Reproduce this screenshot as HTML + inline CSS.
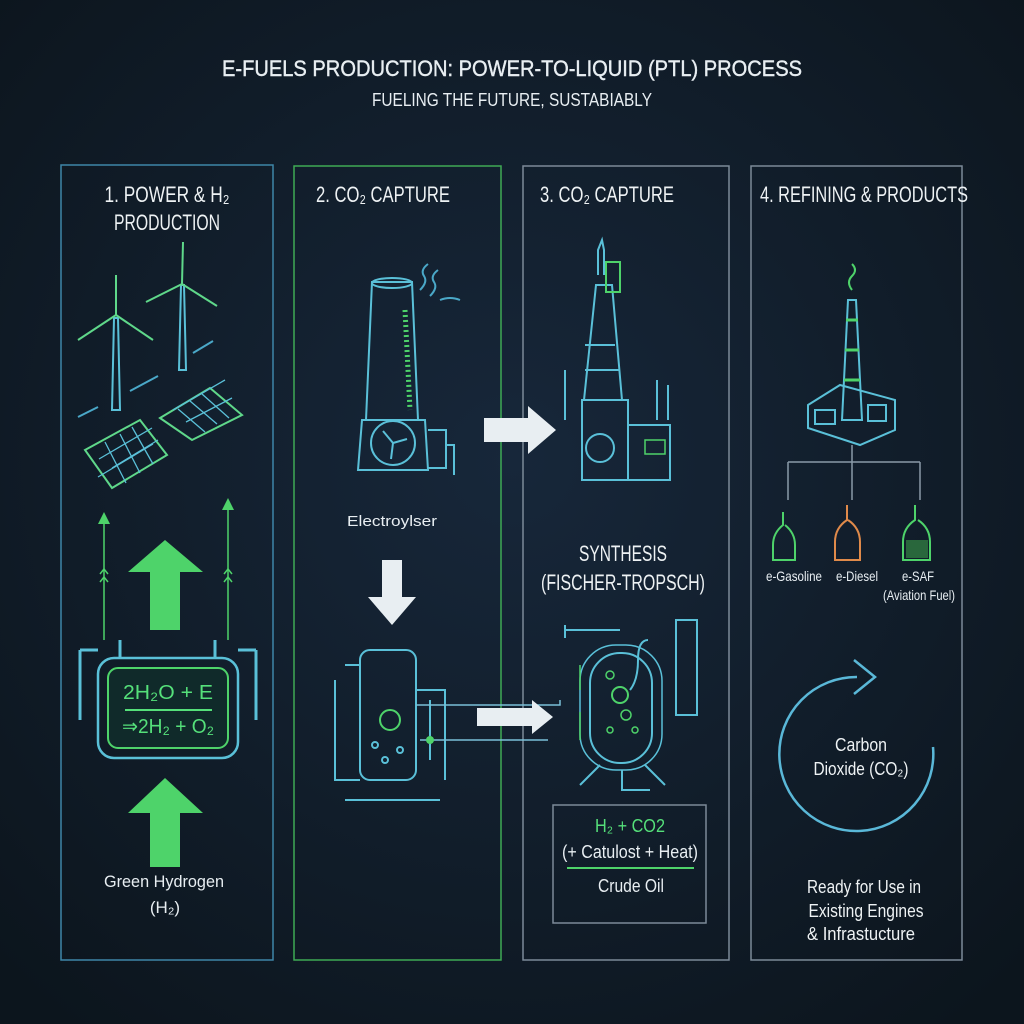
<!DOCTYPE html>
<html><head><meta charset="utf-8"><style>
html,body{margin:0;padding:0;background:#0f1922;}
svg{display:block}
text{font-family:"Liberation Sans",sans-serif;font-stretch:condensed}
</style></head><body>
<svg width="1024" height="1024" viewBox="0 0 1024 1024" xmlns="http://www.w3.org/2000/svg">
<defs>
<radialGradient id="bg" cx="50%" cy="45%" r="70%"><stop offset="0" stop-color="#17273a"/><stop offset="1" stop-color="#0c151d"/></radialGradient>
</defs>
<rect width="1024" height="1024" fill="url(#bg)"/>
<g fill="#e8eef2" text-anchor="middle">
<text x="512" y="76" font-size="22" textLength="580" lengthAdjust="spacingAndGlyphs" stroke="#e8eef2" stroke-width="0.4">E-FUELS PRODUCTION: POWER-TO-LIQUID (PTL) PROCESS</text>
<text x="512" y="106" font-size="18" textLength="280" lengthAdjust="spacingAndGlyphs">FUELING THE FUTURE, SUSTABIABLY</text>
</g>
<rect x="61" y="165" width="212" height="795" fill="none" stroke="#3e86a8" stroke-width="1.5"/>
<rect x="294" y="166" width="207" height="794" fill="none" stroke="#3faa55" stroke-width="1.5"/>
<rect x="523" y="166" width="206" height="794" fill="none" stroke="#7c8a98" stroke-width="1.5"/>
<rect x="751" y="166" width="211" height="794" fill="none" stroke="#7c8a98" stroke-width="1.5"/>
<g fill="#eef2f4" font-size="22" text-anchor="middle">
<text x="167" y="202" textLength="125" lengthAdjust="spacingAndGlyphs">1. POWER &amp; H₂</text>
<text x="167" y="230" textLength="106" lengthAdjust="spacingAndGlyphs">PRODUCTION</text>
<text x="383" y="202" textLength="134" lengthAdjust="spacingAndGlyphs">2. CO₂ CAPTURE</text>
<text x="607" y="202" textLength="134" lengthAdjust="spacingAndGlyphs">3. CO₂ CAPTURE</text>
<text x="864" y="202" textLength="208" lengthAdjust="spacingAndGlyphs">4. REFINING &amp; PRODUCTS</text>
<text x="623" y="561" textLength="88" lengthAdjust="spacingAndGlyphs">SYNTHESIS</text>
<text x="623" y="590" textLength="164" lengthAdjust="spacingAndGlyphs">(FISCHER-TROPSCH)</text>
</g>
<g fill="none" stroke="#5ac0d8" stroke-width="2">
<path d="M114 318 L112 410 L120 410 L118 318Z"/><path d="M116 315 L116 275 M116 315 L78 340 M116 315 L153 340" stroke="#5fd88a"/>
<path d="M181 285 L179 370 L186 370 L184 285Z"/><path d="M182 284 L183 242 M182 284 L146 302 M182 284 L217 306" stroke="#5fd88a"/>
<path d="M78 417 L98 407 M130 391 L158 376 M193 353 L213 341" stroke="#4aa8c8"/>
</g>
<g fill="none" stroke-width="2">
<path d="M85 450 L140 420 L167 455 L112 488Z" stroke="#5fd88a"/>
<path d="M160 418 L210 388 L242 415 L192 440Z" stroke="#5fd88a"/>
<path d="M99 459 L152 428 M112 468 L158 440 M98 477 L153 444 M105 442 L126 483 M120 434 L140 473 M132 427 L153 464 M173 410 L225 380 M186 422 L232 398 M178 409 L205 432 M190 401 L217 424 M202 394 L229 418" stroke="#5ac0d8" stroke-width="1.3"/>
</g>
<g fill="#4ed36a">
<polygon points="165,540 128,572 150,572 150,630 180,630 180,572 203,572"/>
<polygon points="165,778 128,813 150,813 150,867 180,867 180,813 203,813"/>
<polygon points="104,512 98,524 110,524"/><polygon points="228,498 222,510 234,510"/>
</g>
<g fill="none" stroke="#4ed36a" stroke-width="1.5"><path d="M104 524 V640 M228 510 V640"/><path d="M100 574 l4 -5 l4 5 M100 582 l4 -5 l4 5 M224 574 l4 -5 l4 5 M224 582 l4 -5 l4 5"/></g>
<rect x="98" y="658" width="140" height="100" rx="16" fill="none" stroke="#5ac0d8" stroke-width="2.5"/>
<rect x="108" y="668" width="120" height="80" rx="10" fill="#102a2a" stroke="#4ed36a" stroke-width="2"/>
<path d="M80 650 H98 M238 650 H256 M80 650 V720 M256 650 V720 M120 658 V640 M215 658 V640" stroke="#5ac0d8" stroke-width="3" fill="none"/>
<g fill="#55e07a" font-size="20" text-anchor="middle">
<text x="168" y="699" textLength="90" lengthAdjust="spacingAndGlyphs">2H₂O + E</text>
<text x="168" y="733" textLength="92" lengthAdjust="spacingAndGlyphs">⇒2H₂ + O₂</text>
</g>
<line x1="125" y1="710" x2="212" y2="710" stroke="#55e07a" stroke-width="2"/>
<g fill="#e8eef2" font-size="17" text-anchor="middle">
<text x="164" y="887" textLength="120" lengthAdjust="spacingAndGlyphs">Green Hydrogen</text>
<text x="165" y="913">(H₂)</text>
</g>
<g fill="none" stroke="#5ac0d8" stroke-width="2">
<path d="M372 282 L412 282 L418 420 L366 420Z"/><ellipse cx="392" cy="283" rx="20" ry="5"/>
<path d="M362 420 H425 L428 470 H358Z"/><circle cx="393" cy="443" r="22"/><path d="M393 443 l-10 -12 M393 443 l14 -4 M393 443 l-2 16"/>
<path d="M428 430 h18 v38 h-18 M446 445 h8 v30" />
<path d="M420 290 q8 -8 4 -14 q-4 -6 4 -12 M430 296 q8 -8 4 -14 q-4 -6 4 -12 M440 300 q10 -4 20 0" stroke="#4aa8c8"/>
</g>
<path d="M405 310 L410 410" stroke="#4ed36a" stroke-width="5" stroke-dasharray="2 3"/>
<text x="392" y="526" fill="#e8eef2" font-size="15" text-anchor="middle" textLength="90" lengthAdjust="spacingAndGlyphs">Electroylser</text>
<polygon points="392,625 368,597 382,597 382,560 402,560 402,597 416,597" fill="#e8eef2"/>
<g fill="none" stroke="#5ac0d8" stroke-width="2">
<rect x="360" y="650" width="56" height="130" rx="10"/>
<path d="M335 680 V780 H360 M345 665 H360 M416 690 H445 V780 M430 700 V760 M345 800 H440"/>
<circle cx="390" cy="720" r="10" stroke="#4ed36a"/>
<circle cx="375" cy="745" r="3"/><circle cx="400" cy="750" r="3"/><circle cx="385" cy="760" r="3"/>
<path d="M416 705 H560 V700 M420 740 H548" stroke="#7ac0d8" stroke-width="1.5"/>
</g>
<circle cx="430" cy="740" r="4" fill="#4ed36a"/>
<polygon points="484,418 528,418 528,406 556,430 528,454 528,442 484,442" fill="#e8eef2"/>
<polygon points="477,708 532,708 532,700 553,717 532,734 532,726 477,726" fill="#e8eef2"/>
<g fill="none" stroke="#5ac0d8" stroke-width="2">
<path d="M598 275 V250 L602 240 L604 250 V275"/>
<path d="M596 285 H612 L622 400 H584Z"/><rect x="606" y="262" width="14" height="30" stroke="#4ed36a"/>
<path d="M582 400 H628 V480 H582Z"/><circle cx="600" cy="448" r="14"/>
<path d="M628 425 H670 V480 H628 M565 370 V420 M657 380 V420 M668 385 V420"/>
<path d="M585 345 H615 M585 370 H620"/>
</g>
<rect x="645" y="440" width="20" height="14" fill="none" stroke="#4ed36a" stroke-width="1.5"/>
<g fill="none" stroke="#5ac0d8" stroke-width="2">
<rect x="590" y="653" width="62" height="110" rx="30"/>
<rect x="580" y="645" width="82" height="125" rx="36" stroke-width="1.5"/>
<path d="M565 630 H620 M565 625 V638 M630 690 q8 -10 8 -30 q0 -20 10 -20 M676 620 H697 V715 H676Z M600 765 L580 785 M645 765 L665 785 M622 770 V790 H650"/>
<circle cx="620" cy="695" r="8" stroke="#4ed36a"/>
</g>
<g fill="none" stroke="#4ed36a" stroke-width="1.5"><circle cx="610" cy="675" r="4"/><circle cx="610" cy="730" r="3"/><circle cx="635" cy="730" r="3"/><circle cx="626" cy="715" r="5"/><path d="M580 665 V690 M580 712 V740"/></g>
<rect x="553" y="805" width="153" height="118" fill="none" stroke="#7c8a98" stroke-width="1.5"/>
<g text-anchor="middle" font-size="18">
<text x="630" y="832" fill="#55e07a" textLength="70" lengthAdjust="spacingAndGlyphs">H₂ + CO2</text>
<text x="630" y="858" fill="#e8eef2" textLength="136" lengthAdjust="spacingAndGlyphs">(+ Catulost + Heat)</text>
<text x="631" y="892" fill="#e8eef2" textLength="66" lengthAdjust="spacingAndGlyphs">Crude Oil</text>
</g>
<line x1="567" y1="868" x2="694" y2="868" stroke="#4ed36a" stroke-width="2"/>
<g fill="none" stroke="#5ac0d8" stroke-width="2">
<path d="M848 300 L842 420 H862 L856 300Z"/>
<path d="M808 405 L840 385 L895 400 V430 L860 445 L808 428Z"/>
<rect x="815" y="410" width="20" height="14"/><rect x="868" y="405" width="18" height="16"/>
<path d="M852 445 V462 M788 462 H920 M788 462 V500 M852 462 V500 M920 462 V500" stroke="#8a9aa8" stroke-width="1.5"/>
</g>
<path d="M846 320 H858 M845 350 H859 M844 380 H860" stroke="#4ed36a" stroke-width="3"/>
<path d="M852 290 q-6 -8 0 -14 q6 -6 0 -12" stroke="#4ed36a" stroke-width="2" fill="none"/>
<g fill="none" stroke-width="2">
<path d="M783 512 V525 q-10 8 -10 20 V560 H795 V545 q0 -12 -10 -20" stroke="#4ed36a"/>
<path d="M847 505 V520 q-12 8 -12 22 V560 H860 V542 q0 -14 -12 -22" stroke="#e08a4a"/>
<path d="M915 505 V520 q-12 8 -12 22 V560 H930 V542 q0 -14 -12 -22" stroke="#4ed36a"/>
</g>
<rect x="906" y="540" width="22" height="18" fill="#3a9a4a" opacity=".6"/>
<g fill="#e8eef2" font-size="14" text-anchor="middle">
<text x="794" y="581" textLength="56" lengthAdjust="spacingAndGlyphs">e-Gasoline</text>
<text x="857" y="581" textLength="42" lengthAdjust="spacingAndGlyphs">e-Diesel</text>
<text x="918" y="581" textLength="32" lengthAdjust="spacingAndGlyphs">e-SAF</text>
<text x="919" y="600" textLength="72" lengthAdjust="spacingAndGlyphs">(Aviation Fuel)</text>
</g>
<path d="M933 747 A77 77 0 1 1 857 677" fill="none" stroke="#5ab8d8" stroke-width="2.5"/>
<path d="M854 660 L875 677 L854 694" fill="none" stroke="#5ab8d8" stroke-width="2.5"/>
<g fill="#eef2f4" font-size="18" text-anchor="middle">
<text x="861" y="751" textLength="52" lengthAdjust="spacingAndGlyphs">Carbon</text>
<text x="861" y="775" textLength="95" lengthAdjust="spacingAndGlyphs">Dioxide (CO₂)</text>
<text x="864" y="893" textLength="114" lengthAdjust="spacingAndGlyphs">Ready for Use in</text>
<text x="866" y="917" textLength="115" lengthAdjust="spacingAndGlyphs">Existing Engines</text>
<text x="861" y="940" textLength="108" lengthAdjust="spacingAndGlyphs">&amp; Infrastucture</text>
</g>
</svg>
</body></html>
